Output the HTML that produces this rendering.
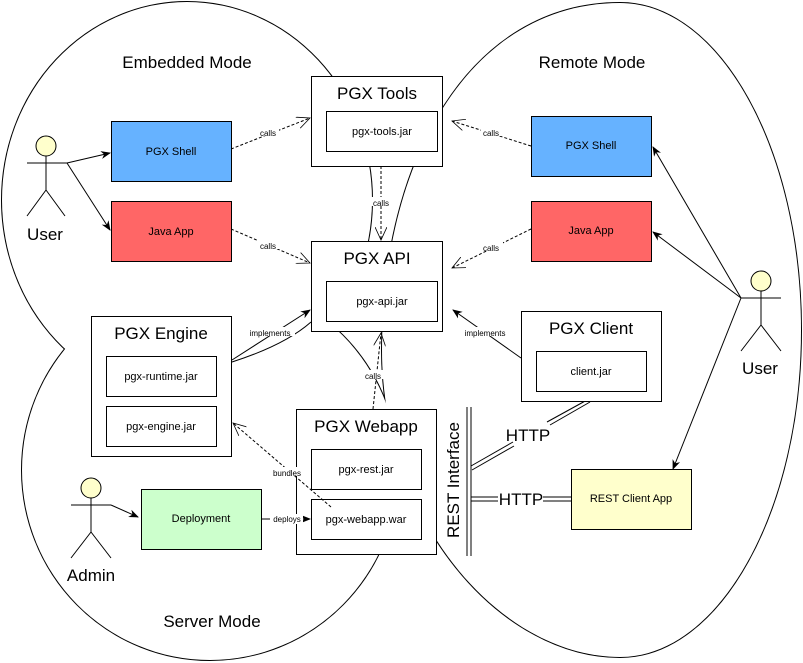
<!DOCTYPE html>
<html><head><meta charset="utf-8"><style>
body{margin:0;background:#fff}
svg{display:block;font-family:"Liberation Sans",sans-serif}
.s{font-size:11px}
.t{font-size:17px}
.l{font-size:8px}
</style></head><body>
<svg width="803" height="663" viewBox="0 0 803 663" xmlns="http://www.w3.org/2000/svg">
<defs>
<marker id="a" markerWidth="10" markerHeight="10" refX="9" refY="5" orient="auto" markerUnits="userSpaceOnUse"><path d="M0,1 L10,5 L0,9 L3,5Z" fill="#000"/></marker>
<marker id="o" markerWidth="14" markerHeight="12" refX="13" refY="6" orient="auto" markerUnits="userSpaceOnUse"><path d="M0,0 L13,6 L0,12" fill="none" stroke="#000" stroke-width="0.8"/></marker>
</defs>
<g stroke="#000" stroke-width="2" fill="none">
<ellipse cx="187" cy="200" rx="185" ry="198"/>
<path d="M620,3 C470,3 382,160 382,350 C382,520 500,657 620,657 C720,657 801,510 801,330 C801,150 720,3 620,3Z"/>
<ellipse cx="210" cy="470" rx="188" ry="190"/>
</g>
<g fill="#fff" stroke="none">
<ellipse cx="187" cy="200" rx="185" ry="198"/>
<path d="M620,3 C470,3 382,160 382,350 C382,520 500,657 620,657 C720,657 801,510 801,330 C801,150 720,3 620,3Z"/>
<ellipse cx="210" cy="470" rx="188" ry="190"/>
</g>
<text x="187" y="68" class="t" text-anchor="middle">Embedded Mode</text>
<text x="592" y="68" class="t" text-anchor="middle">Remote Mode</text>
<text x="212" y="627" class="t" text-anchor="middle">Server Mode</text>

<g stroke="#000" stroke-width="1" fill="none">
<line x1="381" y1="166" x2="381" y2="240" stroke-dasharray="3,2" marker-end="url(#o)"/>
<line x1="231" y1="149" x2="310" y2="118" stroke-dasharray="3,2" marker-end="url(#o)"/>
<line x1="231" y1="229" x2="310" y2="263" stroke-dasharray="3,2" marker-end="url(#o)"/>
<line x1="531" y1="146" x2="452" y2="121" stroke-dasharray="3,2" marker-end="url(#o)"/>
<line x1="531" y1="229" x2="452" y2="268" stroke-dasharray="3,2" marker-end="url(#o)"/>
<line x1="521" y1="358" x2="453" y2="310" marker-end="url(#a)"/>
<line x1="232" y1="360" x2="310" y2="310" marker-end="url(#a)"/>
<path d="M232,362 Q285,345 311,322"/>
<line x1="373" y1="409" x2="381" y2="333" stroke-dasharray="3,2" marker-end="url(#o)"/>
<line x1="331" y1="507" x2="233" y2="423" stroke-dasharray="3,2" marker-end="url(#o)"/>
<line x1="261" y1="519" x2="310" y2="519" marker-end="url(#a)"/>
<polyline points="111,505 138,517" marker-end="url(#a)"/>
<line x1="67" y1="163" x2="110" y2="153" marker-end="url(#a)"/>
<line x1="67" y1="163" x2="110" y2="230" marker-end="url(#a)"/>
<line x1="741" y1="298" x2="653" y2="147" marker-end="url(#a)"/>
<line x1="741" y1="298" x2="653" y2="232" marker-end="url(#a)"/>
<line x1="741" y1="298" x2="673" y2="469" marker-end="url(#a)"/>
<line x1="467" y1="407" x2="467" y2="556"/>
<line x1="471" y1="407" x2="471" y2="556"/>
<line x1="471" y1="466" x2="513" y2="442"/><line x1="472" y1="470" x2="514" y2="446"/>
<line x1="547" y1="422" x2="587" y2="400"/><line x1="550" y1="425" x2="590" y2="402"/>
<line x1="471" y1="497" x2="498" y2="497"/><line x1="471" y1="501" x2="498" y2="501"/>
<line x1="543" y1="497" x2="571" y2="497"/><line x1="543" y1="501" x2="571" y2="501"/>
</g>
<g stroke="#000" stroke-width="1">
<rect x="311.5" y="76.5" width="131" height="90" fill="#fff"/>
<rect x="326.5" y="111.5" width="111" height="40" fill="#fff"/>
<rect x="311.5" y="241.5" width="131" height="90" fill="#fff"/>
<rect x="326.5" y="281.5" width="111" height="40" fill="#fff"/>
<rect x="91.5" y="316.5" width="140" height="140" fill="#fff"/>
<rect x="106.5" y="356.5" width="110" height="40" fill="#fff"/>
<rect x="106.5" y="406.5" width="110" height="40" fill="#fff"/>
<rect x="296.5" y="409.5" width="140" height="145" fill="#fff"/>
<rect x="311.5" y="449.5" width="110" height="40" fill="#fff"/>
<rect x="311.5" y="499.5" width="110" height="40" fill="#fff"/>
<rect x="521.5" y="311.5" width="140" height="90" fill="#fff"/>
<rect x="536.5" y="351.5" width="110" height="40" fill="#fff"/>
<rect x="111.5" y="121.5" width="120" height="60" fill="#66b2ff"/>
<rect x="111.5" y="201.5" width="120" height="60" fill="#ff6666"/>
<rect x="531.5" y="116.5" width="120" height="60" fill="#66b2ff"/>
<rect x="531.5" y="201.5" width="120" height="60" fill="#ff6666"/>
<rect x="141.5" y="489.5" width="120" height="60" fill="#ccffcc"/>
<rect x="571.5" y="469.5" width="120" height="60" fill="#ffffcc"/>
</g>
<g stroke="#000" stroke-width="1" fill="none">
<line x1="331" y1="507" x2="296" y2="477" stroke-dasharray="3,2"/>
<line x1="296" y1="519" x2="310" y2="519" marker-end="url(#a)"/>
</g>
<g class="l" text-anchor="middle">
<rect x="257" y="127" width="22" height="9" fill="#fff"/><text x="268" y="136">calls</text>
<rect x="257" y="240" width="22" height="9" fill="#fff"/><text x="268" y="249">calls</text>
<rect x="481" y="127" width="22" height="9" fill="#fff"/><text x="491" y="136">calls</text>
<rect x="481" y="242" width="22" height="9" fill="#fff"/><text x="491" y="251">calls</text>
<rect x="370" y="197" width="22" height="9" fill="#fff"/><text x="381" y="206">calls</text>
<rect x="362" y="370" width="22" height="9" fill="#fff"/><text x="373" y="379">calls</text>
<rect x="461" y="327" width="48" height="9" fill="#fff"/><text x="485" y="336">implements</text>
<rect x="247" y="327" width="48" height="9" fill="#fff"/><text x="270" y="336">implements</text>
<rect x="271" y="467" width="34" height="9" fill="#fff"/><text x="287" y="476">bundles</text>
<rect x="270" y="514" width="33" height="10" fill="#fff"/><text x="287" y="522">deploys</text>
</g>
<g class="t" text-anchor="middle">
<text x="377" y="99">PGX Tools</text>
<text x="377" y="264">PGX API</text>
<text x="161" y="339">PGX Engine</text>
<text x="366" y="432">PGX Webapp</text>
<text x="591" y="334">PGX Client</text>
<text x="45" y="240">User</text>
<text x="760" y="374">User</text>
<text x="91" y="581">Admin</text>
<text x="528" y="441">HTTP</text>
<text x="521" y="505">HTTP</text>
<text transform="translate(459,480) rotate(-90)">REST Interface</text>
</g>
<g class="s" text-anchor="middle">
<text x="382" y="135">pgx-tools.jar</text>
<text x="382" y="305">pgx-api.jar</text>
<text x="161" y="380">pgx-runtime.jar</text>
<text x="161" y="430">pgx-engine.jar</text>
<text x="366" y="473">pgx-rest.jar</text>
<text x="366" y="523">pgx-webapp.war</text>
<text x="591" y="375">client.jar</text>
<text x="171" y="155">PGX Shell</text>
<text x="171" y="235">Java App</text>
<text x="591" y="149">PGX Shell</text>
<text x="591" y="234">Java App</text>
<text x="201" y="522">Deployment</text>
<text x="631" y="502">REST Client App</text>
</g>
<g stroke="#000" stroke-width="1" fill="none">
<circle cx="46" cy="146" r="10" fill="#ffffcc"/>
<path d="M27,163 H67 M46,156 V190 L27,216 M46,190 L65,216"/>
<circle cx="761" cy="281" r="10" fill="#ffffcc"/>
<path d="M741,298 H781 M761,291 V325 L741,351 M761,325 L781,351"/>
<circle cx="91" cy="488" r="10" fill="#ffffcc"/>
<path d="M71,505 H111 M91,498 V532 L71,558 M91,532 L111,558"/>
</g>
</svg>
</body></html>
